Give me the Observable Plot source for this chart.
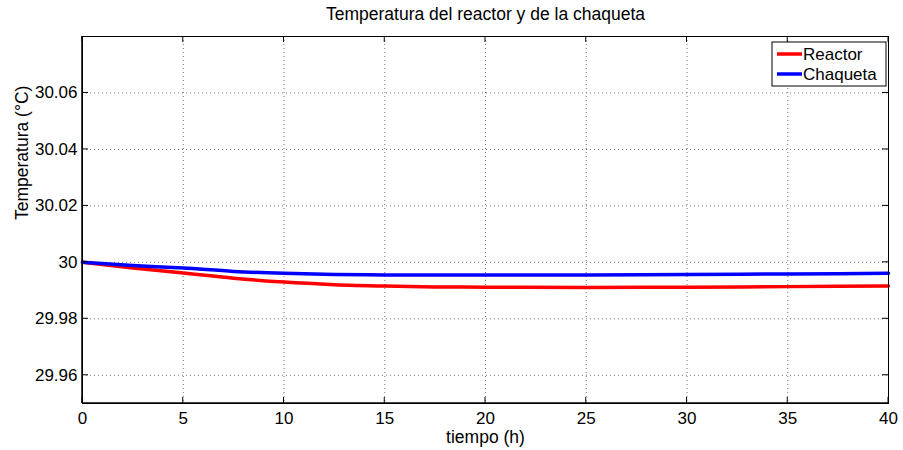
<!DOCTYPE html>
<html>
<head>
<meta charset="utf-8">
<script src="https://cdn.jsdelivr.net/npm/d3@7"></script>
<script src="https://cdn.jsdelivr.net/npm/@observablehq/plot@0.6"></script>
<style>
  html, body { margin: 0; padding: 0; background: #fff; }
  svg { display: block; }
</style>
</head>
<body>
<div id="chart"></div>
<script>
const title = "Temperatura del reactor y de la chaqueta";
const xLabel = "tiempo (h)";
const yLabel = "Temperatura (°C)";
const seriesNames = ["Reactor", "Chaqueta"];
const seriesColors = ["#ff0000", "#0000ff"];

const tReactor = [0, 2.5, 5, 7.5, 10, 12.5, 15, 17.5, 20, 25, 30, 35, 40];
const vReactor = [30, 29.9980, 29.9962, 29.9944, 29.9930, 29.9921, 29.9916, 29.9913, 29.9912, 29.9911, 29.9912, 29.9914, 29.9916];
const tChaqueta = [0, 2.5, 5, 7.5, 10, 12.5, 15, 17.5, 20, 25, 30, 35, 40];
const vChaqueta = [30, 29.9989, 29.9980, 29.9968, 29.9961, 29.9957, 29.99555, 29.9955, 29.9955, 29.99555, 29.9957, 29.9959, 29.9961];

const xTicks = [0, 5, 10, 15, 20, 25, 30, 35, 40];
const yTicks = [29.96, 29.98, 30, 30.02, 30.04, 30.06];
const yTickLabels = ["29.96", "29.98", "30", "30.02", "30.04", "30.06"];

const data = [
  ...tReactor.map((t, i) => ({t, v: vReactor[i], s: seriesNames[0]})),
  ...tChaqueta.map((t, i) => ({t, v: vChaqueta[i], s: seriesNames[1]}))
];

const W = 903, H = 450;
const mL = 82, mR = 15, mT = 36, mB = 47;
const font = "'Liberation Sans', Arial, Helvetica, sans-serif";
const fs = 17;

const plot = Plot.plot({
  width: W, height: H,
  marginLeft: mL, marginRight: mR, marginTop: mT, marginBottom: mB,
  style: {fontFamily: font, fontSize: fs + "px", color: "#000", background: "#fff"},
  x: {domain: [0, 40]},
  y: {domain: [29.95, 30.08]},
  color: {domain: seriesNames, range: seriesColors},
  marks: [
    Plot.gridX(xTicks, {stroke: "#777", strokeOpacity: 1, strokeDasharray: "1,3"}),
    Plot.gridY(yTicks, {stroke: "#777", strokeOpacity: 1, strokeDasharray: "1,3"}),
    Plot.line(data, {x: "t", y: "v", z: "s", stroke: "s", strokeWidth: 3.5, curve: "monotone-x"}),
    Plot.axisX(xTicks, {tickSize: 0, tickPadding: 8, fontSize: fs, label: null}),
    Plot.axisY(yTicks, {tickSize: 0, tickPadding: 5, fontSize: fs, label: null,
      tickFormat: d => yTickLabels[yTicks.indexOf(d)]}),
    Plot.frame({stroke: "#000", strokeWidth: 1}),
    Plot.text([title], {frameAnchor: "top", dy: -22, fontSize: 17.5, lineAnchor: "middle"}),
    Plot.text([xLabel], {frameAnchor: "bottom", dy: 34, fontSize: 17.5, lineAnchor: "middle"}),
    Plot.text([yLabel], {frameAnchor: "left", dx: -60, rotate: -90, fontSize: 17.5, lineAnchor: "middle"})
  ]
});

// inward tick marks on all four sides + legend
const sx = plot.scale("x"), sy = plot.scale("y");
const svg = d3.select(plot);
const g = svg.append("g").attr("stroke", "#000").attr("stroke-width", 1);
const x0 = mL, x1 = W - mR, y0 = mT, y1 = H - mB, tl = 6;
xTicks.forEach(v => {
  const px = sx.apply(v);
  g.append("line").attr("x1", px).attr("x2", px).attr("y1", y1).attr("y2", y1 - tl);
  g.append("line").attr("x1", px).attr("x2", px).attr("y1", y0).attr("y2", y0 + tl);
});
yTicks.forEach(v => {
  const py = sy.apply(v);
  g.append("line").attr("y1", py).attr("y2", py).attr("x1", x0).attr("x2", x0 + tl);
  g.append("line").attr("y1", py).attr("y2", py).attr("x1", x1).attr("x2", x1 - tl);
});
g.append("line").attr("x1", x0).attr("x2", x1).attr("y1", y1).attr("y2", y1).attr("stroke-width", 1.5);
g.append("line").attr("x1", x0).attr("x2", x0).attr("y1", y0).attr("y2", y1).attr("stroke-width", 1.5);

const lg = svg.append("g").attr("font-family", font).attr("font-size", fs).attr("text-anchor", "start");
const lx = x1 - 116, ly = y0 + 6, lw = 114, lh = 44;
lg.append("rect").attr("x", lx).attr("y", ly).attr("width", lw).attr("height", lh)
  .attr("fill", "#fff").attr("stroke", "#000").attr("stroke-width", 1);
seriesNames.forEach((name, i) => {
  const yy = ly + 12 + i * 20;
  lg.append("line").attr("x1", lx + 5).attr("x2", lx + 30).attr("y1", yy).attr("y2", yy)
    .attr("stroke", seriesColors[i]).attr("stroke-width", 3.5);
  lg.append("text").attr("x", lx + 31).attr("y", yy).attr("dy", "0.35em").attr("fill", "#000").text(name);
});

document.getElementById("chart").appendChild(plot);
</script>
</body>
</html>
